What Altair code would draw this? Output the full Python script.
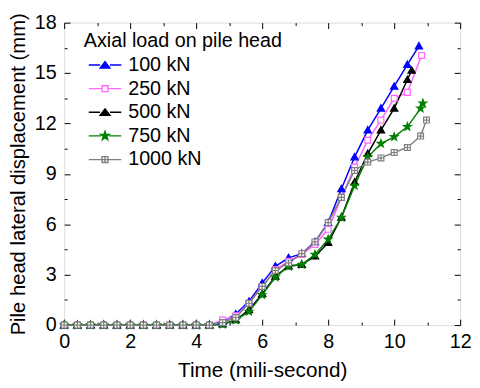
import altair as alt
import pandas as pd

series = ["100 kN", "250 kN", "500 kN", "750 kN", "1000 kN"]
line_colors = ["#0000FF", "#FF66FF", "#000000", "#008000", "#808080"]
fill_colors = ["#0000FF", "#FFFFFF", "#000000", "#008000", "#FFFFFF"]

t_common = [0.0, 0.4, 0.8, 1.2, 1.6, 2.0, 2.4, 2.8, 3.2, 3.6, 4.0, 4.4,
            4.8, 5.2, 5.6, 6.0, 6.4, 6.8, 7.2, 7.6, 8.0, 8.4, 8.8, 9.2,
            9.6, 10.0, 10.4]

t_100 = t_common + [10.75]
v_100 = [0, 0, 0, 0, 0, 0, 0, 0, 0, 0, 0, 0,
         0.2, 0.65, 1.4, 2.5, 3.5, 4.0, 4.25, 4.95, 6.1, 8.1, 10.0, 11.6,
         12.9, 14.2, 15.5, 16.6]

t_250 = t_common + [10.83]
v_250 = [0, 0, 0, 0, 0, 0, 0, 0, 0, 0, 0, 0,
         0.3, 0.55, 1.3, 2.3, 3.3, 3.8, 4.2, 4.8, 5.7, 7.6, 9.4, 11.0,
         12.2, 13.5, 13.85, 16.05]

t_500 = t_common + [10.53]
v_500 = [0, 0, 0, 0, 0, 0, 0, 0, 0, 0, 0, 0,
         0.05, 0.3, 0.9, 1.85, 2.9, 3.5, 3.6, 4.1, 4.9, 6.4, 8.5, 10.2,
         11.6, 12.9, 14.6, 15.15]

t_750 = t_common + [10.8, 10.87]
v_750 = [0, 0, 0, 0, 0, 0, 0, 0, 0, 0, 0, 0,
         0.05, 0.3, 0.8, 1.8, 2.85, 3.5, 3.6, 4.2, 5.1, 6.4, 8.3, 10.0,
         10.8, 11.2, 11.8, 12.9, 13.2]

t_1000 = t_common + [10.8, 10.98]
v_1000 = [0, 0, 0, 0, 0, 0, 0, 0, 0, 0, 0, 0,
          0.15, 0.45, 1.3, 2.3, 3.25, 3.7, 4.25, 4.95, 6.1, 7.6, 9.2, 9.7,
          9.95, 10.27, 10.57, 11.25, 12.2]

x_labels = [0, 2, 4, 6, 8, 10, 12]
x_ticks = [0, 1, 2, 3, 4, 5, 6, 7, 8, 9, 10, 11, 12]
y_labels = [0, 3, 6, 9, 12, 15, 18]
y_ticks = [0, 1.5, 3, 4.5, 6, 7.5, 9, 10.5, 12, 13.5, 15, 16.5, 18]

# plot markers (unit-sized symbol paths)
tri = "M0,-1L1,0.75L-1,0.75Z"
sq = "M-0.8,-0.8H0.8V0.8H-0.8Z"
star = ("M0,-1.1L0.26,-0.36L1.05,-0.34L0.42,0.14L0.65,0.89L0,0.44"
        "L-0.65,0.89L-0.42,0.14L-1.05,-0.34L-0.26,-0.36Z")
sqx = "M-0.8,-0.8H0.8V0.8H-0.8Z M-0.8,0H0.8 M0,-0.8V0.8"
marker_paths = [tri, sq, tri, star, sqx]

# legend symbols: short line with marker in its middle
leg_tri = "M-1,0H1.3 M3.3,0H5.6 M2.3,-0.7L3.3,0.6L1.3,0.6Z"
leg_sq = "M-1,0H1.7 M2.9,0H5.6 M1.7,-0.6H2.9V0.6H1.7Z"
leg_star = ("M-1,0H1.4 M3.2,0H5.6 M2.3,-0.95L2.52,-0.31L3.19,-0.29L2.66,0.12"
            "L2.85,0.76L2.3,0.37L1.75,0.76L1.94,0.12L1.41,-0.29L2.08,-0.31Z")
leg_sqx = ("M-1,0H1.7 M2.9,0H5.6 M1.7,-0.6H2.9V0.6H1.7Z"
           " M1.7,0H2.9 M2.3,-0.6V0.6")
legend_paths = [leg_tri, leg_sq, leg_tri, leg_star, leg_sqx]

rows = []
for s, ts, vs in zip(series, [t_100, t_250, t_500, t_750, t_1000],
                     [v_100, v_250, v_500, v_750, v_1000]):
    for t, v in zip(ts, vs):
        rows.append({"s": s, "t": t, "v": v})
df = pd.DataFrame(rows)

W, H = 402, 307
FONT = "Liberation Sans"
xs = alt.Scale(domain=[0, 12], nice=False, zero=False)
ys = alt.Scale(domain=[0, 18], nice=False)
xcond = {"condition": {"test": "datum.value % 2 === 0", "value": 6}, "value": 3}
ycond = {"condition": {"test": "datum.value % 3 === 0", "value": 6}, "value": 3}


def tick_axis(orient, offset, values, cond):
    return alt.Axis(orient=orient, offset=offset, values=values, tickSize=cond,
                    labels=False, domain=False, grid=False, title=None,
                    tickColor="black", tickWidth=1)


lines = alt.Chart(df).mark_line(strokeWidth=1.5).encode(
    x=alt.X("t:Q", scale=xs, axis=alt.Axis(
        orient="bottom", values=x_labels, ticks=False, domain=False, grid=False,
        labelFontSize=20, labelPadding=7, labelFlush=False, format="d",
        title="Time (mili-second)", titleFontSize=21, titlePadding=8,
        titleFontWeight="normal")),
    y=alt.Y("v:Q", scale=ys, axis=alt.Axis(
        orient="left", values=y_labels, ticks=False, domain=False, grid=False,
        labelFontSize=20, labelPadding=8, format="d",
        title="Pile head lateral displacement (mm)", titleFontSize=20.5,
        titlePadding=6, titleFontWeight="normal")),
    color=alt.Color("s:N", scale=alt.Scale(domain=series, range=line_colors),
                    legend=None),
)

points = alt.Chart(df).mark_point(size=55, strokeWidth=1.2, opacity=1).encode(
    x=alt.X("t:Q", scale=xs, axis=tick_axis("top", -H, x_ticks, xcond)),
    y=alt.Y("v:Q", scale=ys, axis=tick_axis("right", -W, y_ticks, ycond)),
    shape=alt.Shape("s:N", scale=alt.Scale(domain=series, range=marker_paths),
                    legend=None),
    stroke=alt.Stroke("s:N", scale=alt.Scale(domain=series, range=line_colors),
                      legend=None),
    fill=alt.Fill("s:N", scale=alt.Scale(domain=series, range=fill_colors),
                  legend=None),
)

leg = alt.Legend(title="Axial load on pile head", orient="none",
                 legendX=20, legendY=9, titleFontSize=20, labelFontSize=20,
                 titleFontWeight="normal", titleColor="black",
                 labelColor="black", symbolSize=100, symbolStrokeWidth=1.4,
                 labelOffset=25, rowPadding=4, titlePadding=4, padding=0,
                 titleLimit=400, titleFont=FONT, labelFont=FONT)

legend_layer = alt.Chart(df).transform_filter("false").mark_point(
    size=100, strokeWidth=1.4, opacity=1).encode(
    x=alt.X("t:Q", scale=xs, axis=tick_axis("bottom", -H, x_ticks, xcond)),
    y=alt.Y("v:Q", scale=ys, axis=tick_axis("left", -W, y_ticks, ycond)),
    shape=alt.Shape("s:N", scale=alt.Scale(domain=series, range=legend_paths),
                    legend=leg),
    stroke=alt.Stroke("s:N", scale=alt.Scale(domain=series, range=line_colors),
                      legend=leg),
    fill=alt.Fill("s:N", scale=alt.Scale(domain=series, range=fill_colors),
                  legend=leg),
)

chart = alt.layer(lines, points, legend_layer).resolve_scale(
    shape="independent", fill="independent", stroke="independent"
).properties(
    width=W, height=H,
    autosize=alt.AutoSizeParams(type="none"),
    padding={"left": 57, "top": 12, "right": 12, "bottom": 60},
).configure_view(stroke="black", strokeWidth=1).configure_axis(
    labelFont=FONT, titleFont=FONT, labelColor="black", titleColor="black",
    titleFontWeight="normal"
).configure(background="white")

chart.save("out.html", embed_options={"renderer": "svg", "actions": False})
